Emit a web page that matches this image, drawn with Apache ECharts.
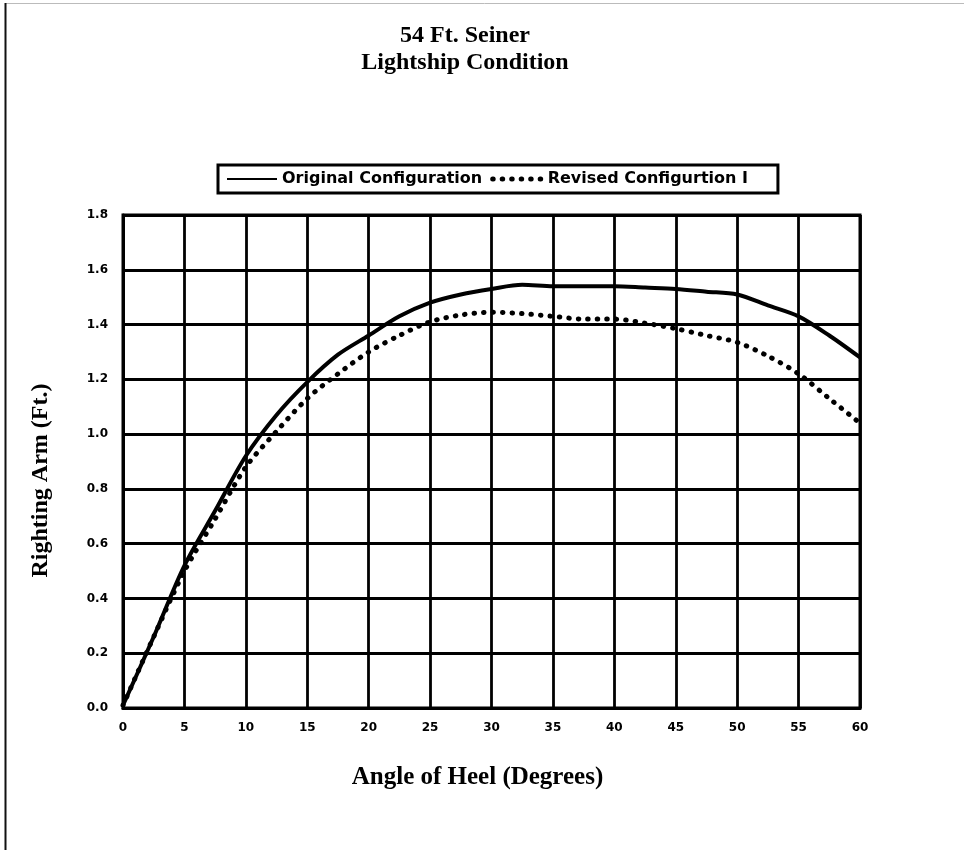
<!DOCTYPE html>
<html>
<head>
<meta charset="utf-8">
<title>54 Ft. Seiner - Lightship Condition</title>
<script src="https://cdn.jsdelivr.net/npm/echarts@6/dist/echarts.min.js"></script>
<style>
  html, body { margin: 0; padding: 0; background: #fff; }
  #chart { width: 964px; height: 850px; }
</style>
</head>
<body>
<div id="chart"></div>
<script>
// Angle of heel (degrees) and righting arm (ft.) for each configuration
const heelAngles = [0, 2.5, 5, 7.5, 10, 12.5, 15, 17.5, 20, 22.5, 25, 27.5, 30,
                    32.5, 35, 37.5, 40, 42.5, 45, 47.5, 50, 52.5, 55, 57.5, 60];
const originalArm = [0.01, 0.26, 0.52, 0.72, 0.92, 1.07, 1.19, 1.29, 1.36, 1.43, 1.48, 1.51, 1.53,
                     1.545, 1.54, 1.54, 1.54, 1.535, 1.53, 1.52, 1.51, 1.47, 1.43, 1.36, 1.28];
const revisedArm = [0.01, 0.26, 0.50, 0.69, 0.88, 1.01, 1.13, 1.22, 1.30, 1.36, 1.41, 1.435, 1.445,
                    1.44, 1.43, 1.42, 1.42, 1.405, 1.385, 1.36, 1.335, 1.285, 1.22, 1.13, 1.04];
const seriesNames = ['Original Configuration', 'Revised Configurtion I'];
const titleLines = ['54 Ft. Seiner', 'Lightship Condition'];
const xAxisTitle = 'Angle of Heel (Degrees)';
const yAxisTitle = 'Righting Arm (Ft.)';

const pair = (xs, ys) => xs.map((x, i) => [x, ys[i]]);

const serif = '"Liberation Serif", "Times New Roman", serif';
const sans = '"DejaVu Sans", Verdana, sans-serif';

const dotted = { color: '#000', width: 5, type: [0.5, 9], cap: 'round' };

const chart = echarts.init(document.getElementById('chart'), null, { renderer: 'canvas' });

chart.setOption({
  animation: false,
  backgroundColor: '#fff',
  title: {
    text: titleLines.join('\n'),
    left: 460,
    textAlign: 'center',
    top: 17,
    textStyle: {
      fontFamily: serif, fontWeight: 'bold', fontSize: 24, color: '#000', lineHeight: 27
    }
  },
  legend: {
    top: 165,
    left: 218,
    data: [
      { name: seriesNames[0], itemStyle: { opacity: 0 }, lineStyle: { width: 2 } },
      { name: seriesNames[1], itemStyle: { opacity: 0 }, lineStyle: dotted }
    ],
    borderColor: '#000',
    borderWidth: 3,
    padding: [6, 30, 6, 8],
    itemGap: 8,
    itemWidth: 50,
    itemHeight: 14,
    textStyle: { fontFamily: sans, fontWeight: 'bold', fontSize: 16, color: '#000' }
  },
  grid: {
    left: 123, right: 104, top: 215, bottom: 142,
    show: true, borderColor: '#000', borderWidth: 3
  },
  xAxis: {
    type: 'value',
    min: 0, max: 60, interval: 5,
    name: xAxisTitle,
    nameLocation: 'middle',
    nameGap: 57,
    nameTextStyle: {
      fontFamily: serif, fontWeight: 'bold', fontSize: 25, color: '#000',
      padding: [0, 28, 0, 0]
    },
    axisLine: { show: true, lineStyle: { color: '#000', width: 3 } },
    axisTick: { show: false },
    axisLabel: { margin: 14, fontFamily: sans, fontWeight: 'bold', fontSize: 12, color: '#000' },
    splitLine: { show: true, lineStyle: { color: '#000', width: 2.8 } }
  },
  yAxis: {
    type: 'value',
    min: 0, max: 1.8, interval: 0.2,
    name: yAxisTitle,
    nameLocation: 'middle',
    nameGap: 70,
    nameTextStyle: {
      fontFamily: serif, fontWeight: 'bold', fontSize: 24, color: '#000',
      padding: [0, 38, 0, 0]
    },
    axisLine: { show: true, lineStyle: { color: '#000', width: 3 } },
    axisTick: { show: false },
    axisLabel: {
      margin: 15, fontFamily: sans, fontWeight: 'bold', fontSize: 12, color: '#000',
      formatter: v => v.toFixed(1)
    },
    splitLine: { show: true, lineStyle: { color: '#000', width: 2.8 } }
  },
  series: [
    {
      name: seriesNames[0],
      type: 'line',
      data: pair(heelAngles, originalArm),
      smooth: 0.3,
      symbol: 'none',
      z: 3,
      itemStyle: { color: '#000' },
      lineStyle: { color: '#000', width: 4 }
    },
    {
      name: seriesNames[1],
      type: 'line',
      data: pair(heelAngles, revisedArm),
      smooth: 0.3,
      symbol: 'none',
      z: 4,
      itemStyle: { color: '#000' },
      lineStyle: dotted
    }
  ],
  graphic: [
    // page frame: faint top rule and dark left rule
    { type: 'line', shape: { x1: 5, y1: 3.5, x2: 964, y2: 3.5 }, style: { stroke: '#bbb', lineWidth: 1 } },
    { type: 'line', shape: { x1: 5.5, y1: 3, x2: 5.5, y2: 850 }, style: { stroke: '#111', lineWidth: 2 } }
  ]
});
</script>
</body>
</html>
